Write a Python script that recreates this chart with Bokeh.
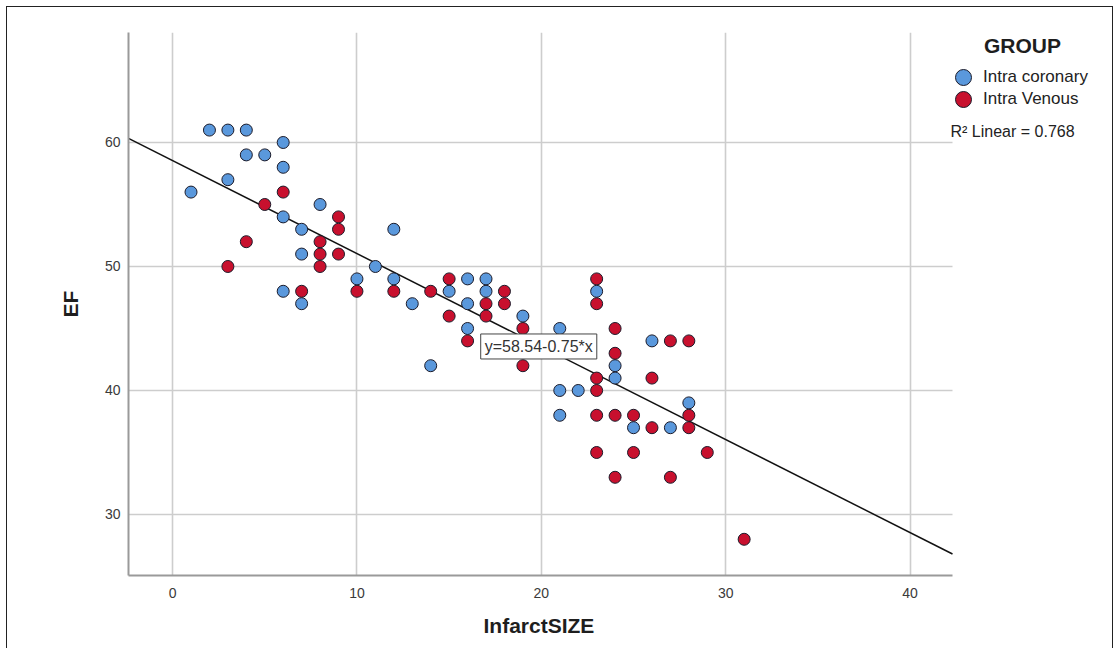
from bokeh.plotting import figure
from bokeh.models import (Range1d, FixedTicker, Legend, LegendItem, Label, Title,
                          ColumnDataSource)
from bokeh.embed import file_html
from bokeh.resources import INLINE

# ---------------- data ----------------
coronary_size = [1, 2, 3, 4, 3, 4, 5, 6, 6, 6, 6, 7, 7, 7, 8, 10, 11, 12, 12, 13,
                 14, 15, 16, 16, 16, 17, 17, 19, 21, 21, 21, 22, 23, 24, 24, 25,
                 26, 27, 28]
coronary_ef = [56, 61, 61, 61, 57, 59, 59, 60, 58, 54, 48, 53, 51, 47, 55, 49, 50,
               53, 49, 47, 42, 48, 49, 47, 45, 49, 48, 46, 45, 40, 38, 40, 48, 42,
               41, 37, 44, 37, 39]

venous_size = [3, 4, 5, 6, 7, 8, 8, 8, 9, 9, 9, 10, 12, 14, 15, 15, 16, 17, 17, 18,
               18, 19, 19, 23, 23, 23, 23, 23, 23, 24, 24, 24, 24, 25, 25, 26, 26,
               27, 27, 28, 28, 28, 29, 31]
venous_ef = [50, 52, 55, 56, 48, 52, 51, 50, 54, 53, 51, 48, 48, 48, 49, 46, 44, 47,
             46, 48, 47, 45, 42, 49, 47, 41, 40, 38, 35, 45, 43, 38, 33, 38, 35, 41,
             37, 44, 33, 44, 38, 37, 35, 28]

fit_intercept = 58.54
fit_slope = -0.75
r_squared = 0.768

x_ticks = [0, 10, 20, 30, 40]
y_ticks = [30, 40, 50, 60]

x_title = "InfarctSIZE"
y_title = "EF"
legend_title = "GROUP"
group_labels = ["Intra coronary", "Intra Venous"]
group_colors = ["#5a98dc", "#c8102e"]

FONT = "Liberation Sans"

# ---------------- layout constants ----------------
X_LO, X_HI = -2.39, 42.3          # extent of the x axis
Y_LO, Y_HI = 25.08, 68.87
AXIS_W = 824                      # pixel width of the axis area
FRAME_W = 984                     # frame extends under the legend area
x_end = X_LO + (X_HI - X_LO) * FRAME_W / AXIS_W

p = figure(width=1105, height=641, output_backend="svg", toolbar_location=None,
           x_range=Range1d(X_LO, x_end), y_range=Range1d(Y_LO, Y_HI),
           min_border_left=121, min_border_right=0, min_border_top=25,
           min_border_bottom=73)
p.styles = {"margin-left": "7px", "margin-top": "7px",
            "outline": "1.5px solid #222222"}
p.background_fill_color = "white"
p.border_fill_color = "white"
p.outline_line_color = None

for ax, ticks in ((p.xaxis[0], x_ticks), (p.yaxis[0], y_ticks)):
    ax.ticker = FixedTicker(ticks=ticks)
    ax.axis_line_color = "#9a9a9a"
    ax.axis_line_width = 2
    ax.major_tick_line_color = None
    ax.minor_tick_line_color = None
    ax.major_tick_out = 0
    ax.major_tick_in = 0
    ax.minor_tick_out = 0
    ax.minor_tick_in = 0
    ax.major_label_text_font = FONT
    ax.major_label_text_font_size = "14px"
    ax.major_label_text_color = "#3a3a3a"
    ax.axis_label_text_font = FONT
    ax.axis_label_text_font_size = "21px"
    ax.axis_label_text_font_style = "bold"
    ax.axis_label_text_color = "#1e1e1e"

p.xaxis.bounds = (X_LO, X_HI)
p.yaxis.axis_label = y_title
p.xaxis.major_label_standoff = 12
p.yaxis.major_label_standoff = 8
p.yaxis.axis_label_standoff = 20

# x-axis title centred under the axis extent (not under the whole frame)
p.add_layout(Title(text=x_title, align="left", offset=355, standoff=23,
                   text_font=FONT, text_font_size="21px", text_font_style="bold",
                   text_color="#1e1e1e"), "below")

GRID_COLOR = "#cdcdcd"
GRID_W = 1.6
p.xgrid.ticker = FixedTicker(ticks=x_ticks)
p.xgrid.grid_line_color = GRID_COLOR
p.xgrid.grid_line_width = GRID_W
p.ygrid.grid_line_color = None
# horizontal grid lines limited to the axis extent
p.segment(x0=[X_LO] * len(y_ticks), x1=[X_HI] * len(y_ticks), y0=y_ticks,
          y1=y_ticks, line_color=GRID_COLOR, line_width=GRID_W)

# regression line across the axis extent
fit_x = [X_LO, X_HI]
fit_y = [fit_intercept + fit_slope * v for v in fit_x]
p.line(fit_x, fit_y, line_color="#111111", line_width=1.5)

src_c = ColumnDataSource(dict(x=coronary_size, y=coronary_ef))
src_v = ColumnDataSource(dict(x=venous_size, y=venous_ef))
r_c = p.scatter("x", "y", source=src_c, size=12, fill_color=group_colors[0],
                line_color="#1b1b2a", line_width=1)
r_v = p.scatter("x", "y", source=src_v, size=12, fill_color=group_colors[1],
                line_color="#1b1b2a", line_width=1)

# equation label
eq = Label(x=19.86, y=43.55, text=f"y={fit_intercept:.2f}{fit_slope:+.2f}*x",
           text_align="center", text_baseline="middle",
           text_font=FONT, text_font_size="16px", text_color="#333333",
           background_fill_color="white", border_line_color="#444444",
           border_line_width=1, padding=4)
p.add_layout(eq)

# legend title and R^2 (screen units from frame bottom-left)
p.add_layout(Label(x=894, y=530, x_units="screen", y_units="screen",
                   text=legend_title, text_align="center", text_baseline="middle",
                   text_font=FONT, text_font_size="21px", text_font_style="bold",
                   text_color="#1e1e1e"))
p.add_layout(Label(x=822, y=444, x_units="screen", y_units="screen",
                   text=f"R\u00b2 Linear = {r_squared}", text_align="left",
                   text_baseline="middle", text_font=FONT, text_font_size="16px",
                   text_color="#222222"))

# one legend per group so the rows sit close together
GLYPH = 40
for rend, lab, vy in ((r_c, group_labels[0], 478), (r_v, group_labels[1], 456)):
    lg = Legend(items=[LegendItem(label=lab, renderers=[rend])],
                location=(815, vy), glyph_width=GLYPH, glyph_height=GLYPH,
                label_height=GLYPH, label_standoff=0, padding=0, margin=0,
                border_line_color=None, background_fill_alpha=0,
                label_text_font=FONT, label_text_font_size="17px",
                label_text_color="#222222")
    p.add_layout(lg)

open("out.html", "w").write(file_html(p, INLINE))
